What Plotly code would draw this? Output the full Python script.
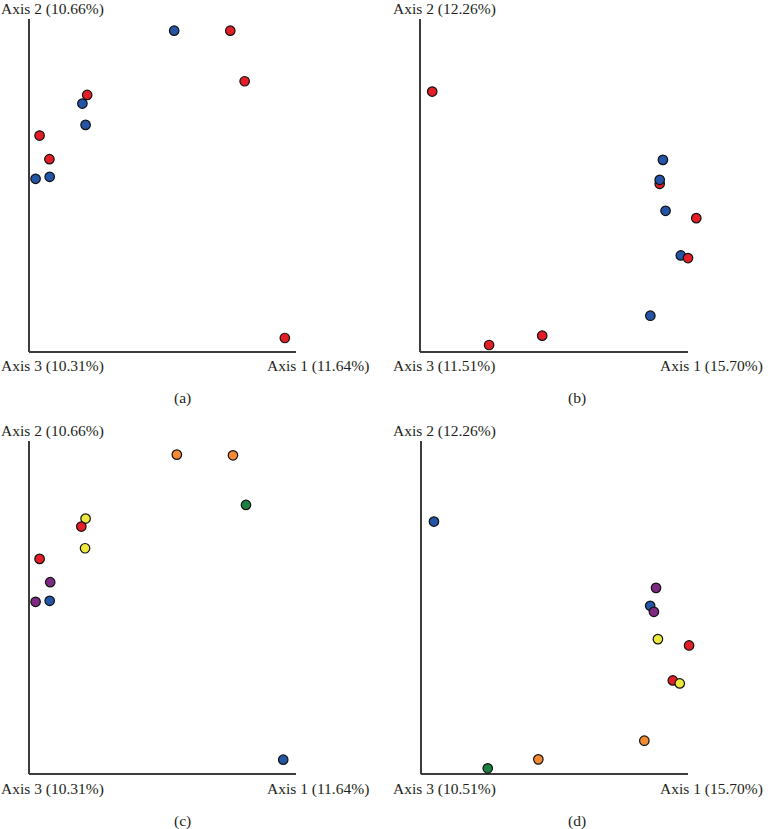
import plotly.graph_objects as go

# ---- colours ----
RED = "#e31e26"
BLUE = "#2354a5"
ORANGE = "#f58a32"
GREEN = "#1b8040"
YELLOW = "#ece83e"
PURPLE = "#7f2a82"

# ---- panel (a): Axis 1 vs Axis 2, coloured by group ----
a_x = [0.542, 0.753, 0.807, 0.197, 0.215, 0.209, 0.036, 0.073, 0.074, 0.021, 0.958]
a_y = [0.965, 0.965, 0.813, 0.746, 0.772, 0.682, 0.650, 0.579, 0.526, 0.520, 0.042]
a_c = [BLUE, RED, RED, BLUE, RED, BLUE, RED, RED, BLUE, BLUE, RED]

# ---- panel (b) ----
b_x = [0.042, 0.906, 0.894, 0.894, 0.916, 1.031, 0.973, 1.000, 0.859, 0.454, 0.255]
b_y = [0.782, 0.577, 0.505, 0.517, 0.424, 0.402, 0.290, 0.282, 0.109, 0.049, 0.021]
b_c = [RED, BLUE, RED, BLUE, BLUE, RED, BLUE, RED, BLUE, RED, RED]

# ---- panel (c) ----
c_x = [0.552, 0.763, 0.812, 0.209, 0.193, 0.207, 0.036, 0.076, 0.074, 0.021, 0.952]
c_y = [0.959, 0.957, 0.808, 0.767, 0.743, 0.678, 0.646, 0.576, 0.520, 0.517, 0.043]
c_c = [ORANGE, ORANGE, GREEN, YELLOW, RED, YELLOW, RED, PURPLE, BLUE, PURPLE, BLUE]

# ---- panel (d) ----
d_x = [0.046, 0.880, 0.858, 0.872, 0.887, 1.004, 0.943, 0.969, 0.836, 0.438, 0.248]
d_y = [0.758, 0.559, 0.505, 0.487, 0.405, 0.386, 0.281, 0.272, 0.100, 0.044, 0.017]
d_c = [BLUE, PURPLE, BLUE, PURPLE, YELLOW, RED, RED, YELLOW, ORANGE, ORANGE, GREEN]

# axis labels
y_labels = ["Axis 2 (10.66%)", "Axis 2 (12.26%)", "Axis 2 (10.66%)", "Axis 2 (12.26%)"]
z_labels = ["Axis 3 (10.31%)", "Axis 3 (11.51%)", "Axis 3 (10.31%)", "Axis 3 (10.51%)"]
x_labels = ["Axis 1 (11.64%)", "Axis 1 (15.70%)", "Axis 1 (11.64%)", "Axis 1 (15.70%)"]
captions = ["(a)", "(b)", "(c)", "(d)"]

W, H = 768, 829
FONT = "Liberation Serif"
TXT = "#231f20"
LINE = "#3c3c3c"
EXTRA = 20  # px of plotting room right of the drawn axis line

panels = [(a_x, a_y, a_c), (b_x, b_y, b_c), (c_x, c_y, c_c), (d_x, d_y, d_c)]
# pixel layout of each panel: (left, right, top, bottom)
boxes = [(30, 296, 19, 352), (421, 688, 19, 352), (30, 296, 441, 774), (421.7, 688, 441, 774)]
label_left = [0, 392, 0, 392]
label_right = [370, 764, 370, 764]
cap_x = [182, 577, 182, 577]
top_y = [9, 9, 431, 431]
bot_y = [366, 366, 789, 789]
cap_y = [398, 398, 821, 821]

fig = go.Figure()
annotations = []
shapes = []
for i, ((xs, ys, cs), (l, r, t, b)) in enumerate(zip(panels, boxes)):
    n = "" if i == 0 else str(i + 1)
    fig.add_trace(go.Scatter(
        x=xs, y=ys, mode="markers", xaxis="x" + n, yaxis="y" + n,
        cliponaxis=False, showlegend=False, hoverinfo="skip",
        marker=dict(size=9.5, color=cs, line=dict(color="#111111", width=1.2)),
    ))
    ax = dict(domain=[l / W, (r + EXTRA) / W], range=[0, 1 + EXTRA / (r - l)],
              showgrid=False, zeroline=False, showticklabels=False, ticks="",
              showline=False, fixedrange=True, anchor="y" + n)
    ay = dict(domain=[1 - b / H, 1 - t / H], range=[0, 1], showgrid=False, zeroline=False,
              showticklabels=False, ticks="", showline=True, linecolor=LINE, linewidth=2,
              fixedrange=True, anchor="x" + n)
    fig.update_layout(**{"xaxis" + n: ax, "yaxis" + n: ay})
    # bottom axis line (Axis 1 / Axis 3 baseline)
    shapes.append(dict(type="line", xref="paper", yref="paper",
                       x0=(l - 1) / W, x1=r / W, y0=1 - b / H, y1=1 - b / H,
                       line=dict(color=LINE, width=2), layer="below"))

    f = dict(family=FONT, size=15.5, color=TXT)
    annotations += [
        dict(text=y_labels[i], x=label_left[i] / W, y=1 - top_y[i] / H, xref="paper", yref="paper",
             xanchor="left", yanchor="middle", showarrow=False, font=f, borderpad=0),
        dict(text=z_labels[i], x=label_left[i] / W, y=1 - bot_y[i] / H, xref="paper", yref="paper",
             xanchor="left", yanchor="middle", showarrow=False, font=f, borderpad=0),
        dict(text=x_labels[i], x=label_right[i] / W, y=1 - bot_y[i] / H, xref="paper", yref="paper",
             xanchor="right", yanchor="middle", showarrow=False, font=f, borderpad=0),
        dict(text=captions[i], x=cap_x[i] / W, y=1 - cap_y[i] / H, xref="paper", yref="paper",
             xanchor="center", yanchor="middle", showarrow=False, font=f, borderpad=0),
    ]

fig.update_layout(width=W, height=H, margin=dict(l=0, r=0, t=0, b=0),
                  paper_bgcolor="white", plot_bgcolor="white",
                  annotations=annotations, shapes=shapes)
fig.write_html("out.html")
